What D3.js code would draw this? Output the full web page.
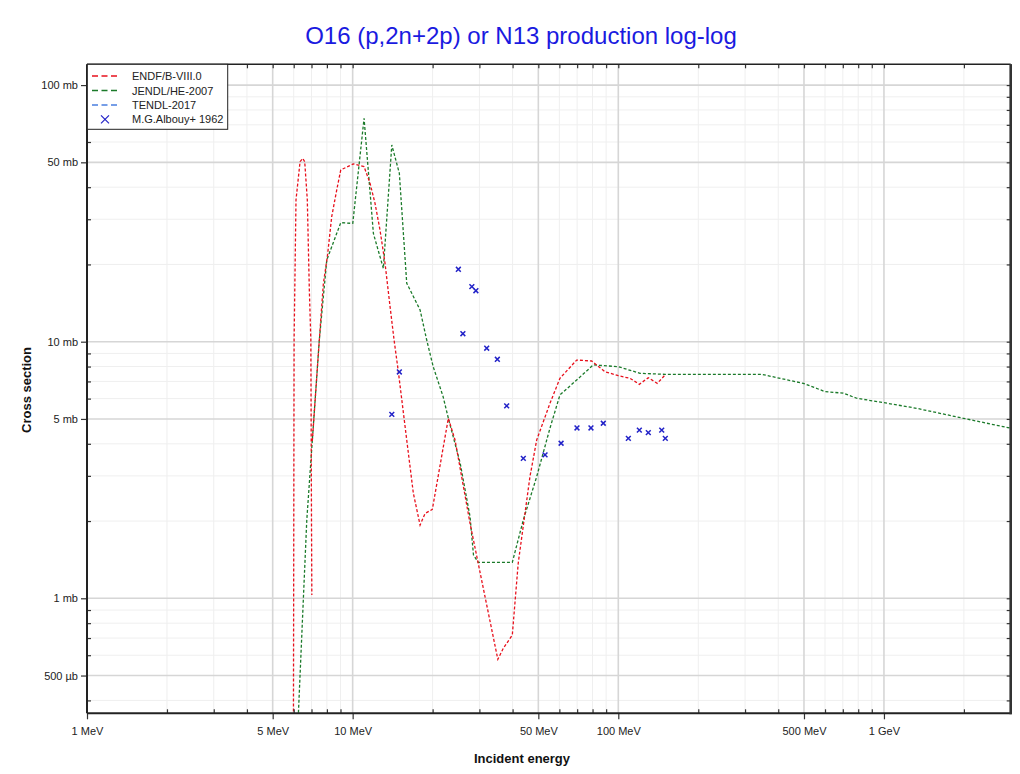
<!DOCTYPE html>
<html><head><meta charset="utf-8">
<script src="https://cdn.jsdelivr.net/npm/d3@7"></script>
<style>body{margin:0;background:#fff;} svg{display:block;font-family:"Liberation Sans",Arial,sans-serif;}</style>
</head><body><svg id="c" width="1020" height="774"></svg>
<script>
// ENDF/B-VIII.0 (a 0 value marks a gap on the log scale)
const endfE  = [5.95, 6.02, 6.12, 6.34, 6.49, 6.60, 6.75, 6.87, 6.96, 7.00, 7.02, 7.03, 7.05, 7.49, 7.76, 8.03, 8.34, 8.71, 9.02, 10.06, 11.04, 11.63, 12.14, 12.68, 13.24, 13.83, 14.32, 14.86, 15.98, 16.92, 17.94, 18.73, 19.95, 22.92, 24.29, 27.66, 35.2, 36.9, 39.9, 42.0, 46.5, 49.3, 55.3, 60.3, 69.7, 79.4, 89.1, 100, 110.7, 120, 129.7, 140.2, 150];
const endfXS = [0.01, 10.2, 35.7, 50.3, 51.8, 50.3, 35.7, 15.9, 10.2, 2.0, 1.03, 0, 4.1, 10.15, 16.9, 21.4, 30.7, 39.0, 46.7, 49.3, 48.1, 41.4, 34.6, 27.2, 20.2, 13.7, 10.15, 7.64, 4.14, 2.57, 1.93, 2.14, 2.22, 5.03, 4.14, 1.96, 0.578, 0.638, 0.719, 1.37, 2.98, 4.14, 5.75, 7.20, 8.48, 8.41, 7.64, 7.37, 7.20, 6.82, 7.24, 6.88, 7.42];
// JENDL/HE-2007
const jendlE  = [6.10, 6.72, 7.49, 7.99, 9.02, 10.01, 11.04, 11.97, 13.05, 14.04, 14.99, 15.98, 17.94, 19.0, 20.1, 21.9, 22.92, 25.4, 27.66, 28.5, 29.7, 39.9, 43.9, 49.3, 55.3, 60.3, 69.7, 80.5, 100, 120.7, 150, 346.5, 497, 600, 703, 789, 994, 1327, 1988, 3000];
const jendlXS = [0.2, 2.02, 10.15, 20.8, 29.1, 28.9, 74.2, 26.4, 19.3, 58.4, 45.3, 16.9, 13.3, 10.15, 7.99, 6.11, 5.03, 3.36, 2.08, 1.475, 1.38, 1.38, 2.02, 2.98, 4.6, 6.20, 7.09, 8.12, 7.99, 7.53, 7.46, 7.46, 6.88, 6.39, 6.30, 6.02, 5.79, 5.50, 5.03, 4.60];
// TENDL-2017 (no visible curve in range)
const tendlE  = [];
const tendlXS = [];
// M.G.Albouy+ 1962 experimental points
const expE  = [14.04, 14.99, 25.0, 26.0, 28.1, 29.1, 31.96, 35.05, 38.0, 43.9, 53.0, 60.9, 69.9, 78.9, 87.8, 109.1, 120, 129.7, 145.7, 150.3];
const expXS = [5.21, 7.62, 19.15, 10.74, 16.4, 15.8, 9.43, 8.54, 5.62, 3.51, 3.62, 4.02, 4.61, 4.61, 4.81, 4.20, 4.52, 4.42, 4.52, 4.20];

const xMajor = [1, 5, 10, 50, 100, 500, 1000];
const xMajorLabels = ["1 MeV", "5 MeV", "10 MeV", "50 MeV", "100 MeV", "500 MeV", "1 GeV"];
const yMajor = [0.5, 1, 5, 10, 50, 100];
const yMajorLabels = ["500 µb", "1 mb", "5 mb", "10 mb", "50 mb", "100 mb"];
const legendNames = ["ENDF/B-VIII.0", "JENDL/HE-2007", "TENDL-2017", "M.G.Albouy+ 1962"];
const legendColors = ["#e8101c", "#1b7a2a", "#4a7fe0", "#2323c8"];

const svg = d3.select("#c");
const M = {l: 87, r: 1010.7, t: 64.3, b: 713.3};
const x = d3.scaleLog().domain([1, 3000]).range([M.l, M.r]);
const y = d3.scaleLog().domain([0.3563, 120.5]).range([M.b, M.t]);

function minorTicks(lo, hi) {
  const out = [];
  for (let d = 0.1; d <= hi; d *= 10) {
    for (let m = 2; m <= 9; m++) {
      const v = +(d * m).toPrecision(3);
      if (m !== 5 && v >= lo && v <= hi) out.push(v);
    }
  }
  return out;
}
const xMinor = minorTicks(1, 3000);
const yMinor = minorTicks(0.3563, 120.5);
const xAll = xMinor.concat(xMajor);
const yAll = yMinor.concat(yMajor);

svg.append("rect").attr("x", 0).attr("y", 0).attr("width", 1020).attr("height", 774).attr("fill", "#fff");

// grid
const g = svg.append("g");
g.selectAll(".xmg").data(xMinor).enter().append("line")
  .attr("x1", d => x(d)).attr("x2", d => x(d)).attr("y1", M.t).attr("y2", M.b)
  .attr("stroke", "#efefef").attr("stroke-width", 1);
g.selectAll(".ymg").data(yMinor).enter().append("line")
  .attr("y1", d => y(d)).attr("y2", d => y(d)).attr("x1", M.l).attr("x2", M.r)
  .attr("stroke", "#efefef").attr("stroke-width", 1);
g.selectAll(".xMg").data(xMajor).enter().append("line")
  .attr("x1", d => x(d)).attr("x2", d => x(d)).attr("y1", M.t).attr("y2", M.b)
  .attr("stroke", "#d6d6d6").attr("stroke-width", 1.6);
g.selectAll(".yMg").data(yMajor).enter().append("line")
  .attr("y1", d => y(d)).attr("y2", d => y(d)).attr("x1", M.l).attr("x2", M.r)
  .attr("stroke", "#d6d6d6").attr("stroke-width", 1.6);

// clip
svg.append("clipPath").attr("id", "clip").append("rect")
  .attr("x", M.l).attr("y", M.t).attr("width", M.r - M.l).attr("height", M.b - M.t);

const line = d3.line().defined(d => d[1] > 0).x(d => x(d[0])).y(d => y(d[1]));
const plot = svg.append("g").attr("clip-path", "url(#clip)");
function series(E, XS, color) {
  const data = E.map((e, i) => [e, XS[i]]);
  if (!data.length) return;
  plot.append("path").datum(data).attr("d", line).attr("fill", "none")
    .attr("stroke", color).attr("stroke-width", 1.3).attr("stroke-dasharray", "3,2");
}
series(jendlE, jendlXS, legendColors[1]);
series(tendlE, tendlXS, legendColors[2]);
series(endfE, endfXS, legendColors[0]);

const cross = (s) => `M${-s},${-s}L${s},${s}M${-s},${s}L${s},${-s}`;
plot.selectAll(".pt").data(expE.map((e, i) => [e, expXS[i]])).enter().append("path")
  .attr("transform", d => `translate(${x(d[0])},${y(d[1])})`)
  .attr("d", cross(2.4)).attr("stroke", legendColors[3]).attr("stroke-width", 1.5).attr("fill", "none");

// axes
const axStyle = sel => { sel.select(".domain").remove(); sel.selectAll("line").attr("stroke", "#333").attr("stroke-width", 1.2); sel.selectAll("text").attr("font-size", 11).attr("fill", "#222").attr("font-family", "Liberation Sans, Arial, sans-serif"); };
svg.append("g").attr("transform", `translate(0,${M.b})`)
  .call(d3.axisBottom(x).tickValues(xMajor).tickFormat((d, i) => xMajorLabels[i]).tickSize(6).tickPadding(8)).call(axStyle);
svg.append("g").attr("transform", `translate(0,${M.b})`)
  .call(d3.axisBottom(x).tickValues(xMinor).tickFormat("").tickSize(-4)).call(axStyle);
svg.append("g").attr("transform", `translate(0,${M.t})`)
  .call(d3.axisTop(x).tickValues(xAll).tickFormat("").tickSize(-4)).call(axStyle);
svg.append("g").attr("transform", `translate(${M.l},0)`)
  .call(d3.axisLeft(y).tickValues(yMajor).tickFormat((d, i) => yMajorLabels[i]).tickSize(6).tickPadding(3)).call(axStyle);
svg.append("g").attr("transform", `translate(${M.l},0)`)
  .call(d3.axisLeft(y).tickValues(yMinor).tickFormat("").tickSize(-4)).call(axStyle);
svg.append("g").attr("transform", `translate(${M.r},0)`)
  .call(d3.axisRight(y).tickValues(yAll).tickFormat("").tickSize(-4)).call(axStyle);

// frame
svg.append("line").attr("x1", M.l).attr("x2", M.r).attr("y1", M.t).attr("y2", M.t).attr("stroke", "#222").attr("stroke-width", 1.6);
svg.append("line").attr("x1", M.l).attr("x2", M.r + 1).attr("y1", M.b).attr("y2", M.b).attr("stroke", "#222").attr("stroke-width", 2);
svg.append("line").attr("x1", M.l).attr("x2", M.l).attr("y1", M.t).attr("y2", M.b).attr("stroke", "#222").attr("stroke-width", 2);
svg.append("line").attr("x1", M.r).attr("x2", M.r).attr("y1", M.t).attr("y2", M.b + 1).attr("stroke", "#333").attr("stroke-width", 2.6);

// titles
svg.append("text").attr("x", 521).attr("y", 44).attr("text-anchor", "middle")
  .attr("font-size", 24).attr("fill", "#1a1ae0").text("O16 (p,2n+2p) or N13 production log-log");
svg.append("text").attr("x", 522).attr("y", 763).attr("text-anchor", "middle")
  .attr("font-size", 13).attr("font-weight", "bold").attr("fill", "#111").text("Incident energy");
svg.append("text").attr("transform", "translate(31,390) rotate(-90)").attr("text-anchor", "middle")
  .attr("font-size", 13).attr("font-weight", "bold").attr("fill", "#111").text("Cross section");

// legend
const lg = svg.append("g");
lg.append("rect").attr("x", 87.3).attr("y", 64.3).attr("width", 140.4).attr("height", 65)
  .attr("fill", "#fff").attr("stroke", "#222").attr("stroke-width", 1);
const rowY = [76, 90.5, 105, 119.3];
legendNames.forEach((name, i) => {
  if (i < 3) {
    lg.append("line").attr("x1", 92).attr("x2", 117).attr("y1", rowY[i]).attr("y2", rowY[i])
      .attr("stroke", legendColors[i]).attr("stroke-width", 1.6).attr("stroke-dasharray", "6,3.5");
  } else {
    lg.append("path").attr("transform", `translate(105,${rowY[i]})`).attr("d", cross(4))
      .attr("stroke", legendColors[i]).attr("stroke-width", 1.2).attr("fill", "none");
  }
  lg.append("text").attr("x", 132).attr("y", rowY[i] + 4).attr("font-size", 11).attr("fill", "#222").text(name);
});
</script></body></html>
